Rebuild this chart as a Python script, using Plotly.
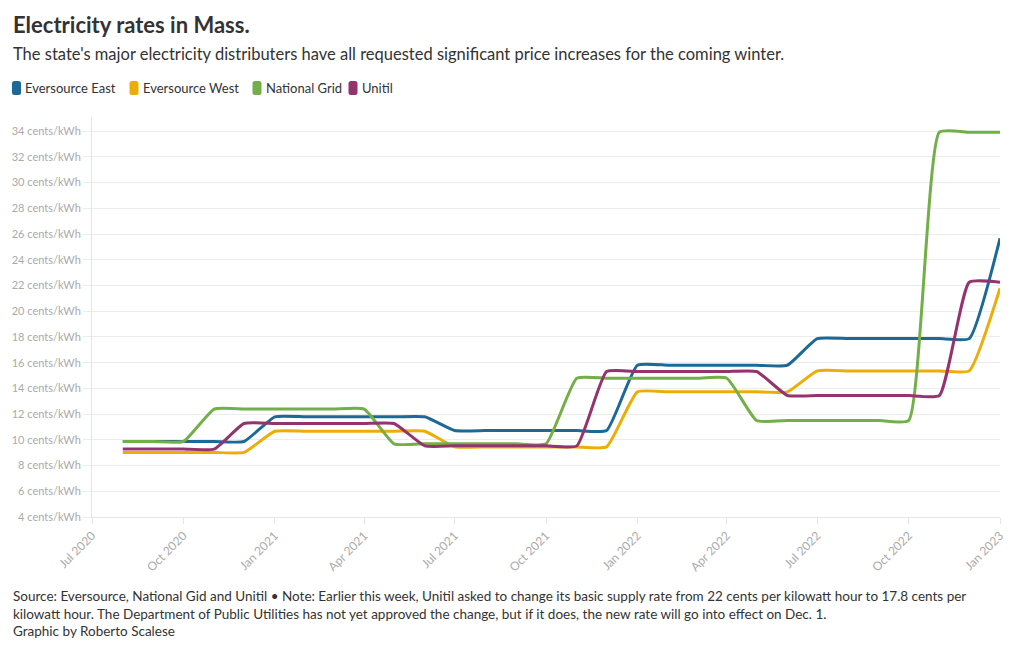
import plotly.graph_objects as go

# ---- data ----
months = [
    "2020-08-01", "2020-09-01", "2020-10-01", "2020-11-01", "2020-12-01",
    "2021-01-01", "2021-02-01", "2021-03-01", "2021-04-01", "2021-05-01", "2021-06-01",
    "2021-07-01", "2021-08-01", "2021-09-01", "2021-10-01", "2021-11-01", "2021-12-01",
    "2022-01-01", "2022-02-01", "2022-03-01", "2022-04-01", "2022-05-01", "2022-06-01",
    "2022-07-01", "2022-08-01", "2022-09-01", "2022-10-01", "2022-11-01", "2022-12-01",
    "2023-01-01",
]

eversource_east = ([9.87] * 5 + [11.79] * 6 + [10.72] * 6 + [15.80] * 6 + [17.87] * 6 + [25.67])
eversource_west = ([9.02] * 5 + [10.67] * 6 + [9.45] * 6 + [13.73] * 6 + [15.36] * 6 + [21.78])
national_grid = ([9.87] * 3 + [12.39] * 6 + [9.69] * 6 + [14.79] * 6 + [11.50] * 6 + [33.92] * 3)
unitil = ([9.28] * 4 + [11.27] * 6 + [9.53] * 6 + [15.31] * 6 + [13.45] * 6 + [22.25] * 2)

series_names = ["Eversource East", "Eversource West", "National Grid", "Unitil"]
series_values = [eversource_east, eversource_west, national_grid, unitil]
colors = ["#1D6996", "#EDAD08", "#73AF48", "#94346E"]

y_ticks = list(range(4, 35, 2))
y_tick_labels = [f"{v} cents/kWh" for v in y_ticks]
x_ticks = ["2020-07-01", "2020-10-01", "2021-01-01", "2021-04-01", "2021-07-01",
           "2021-10-01", "2022-01-01", "2022-04-01", "2022-07-01", "2022-10-01", "2023-01-01"]
x_tick_labels = ["Jul 2020", "Oct 2020", "Jan 2021", "Apr 2021", "Jul 2021", "Oct 2021",
                 "Jan 2022", "Apr 2022", "Jul 2022", "Oct 2022", "Jan 2023"]

title = "Electricity rates in Mass."
subtitle = ("The state's major electricity distributers have all requested significant "
            "price increases for the coming winter.")
footer = ("Source: Eversource, National Gid and Unitil \u2022 Note: Earlier this week, Unitil asked to "
          "change its basic supply rate from 22 cents per kilowatt hour to 17.8 cents per<br>"
          "kilowatt hour. The Department of Public Utilities has not yet approved the change, "
          "but if it does, the new rate will go into effect on Dec. 1.<br>"
          "Graphic by Roberto Scalese")

# ---- layout geometry (page pixels; the page body adds an 8px offset) ----
FONT = "Lato"
TXT = "#333333"
OFF = 8
W, H = 1020, 650
PL, PR, PT, PB = 92, 1000, 117, 517          # plot box in page pixels
ML, MR, MT, MB = PL - OFF, W - (PR - OFF), PT - OFF, H - (PB - OFF)
PW, PH = PR - PL, PB - PT


def px(x):
    return (x - PL) / PW


def py(y):
    return (PB - y) / PH


fig = go.Figure()
for name, vals, col in zip(series_names, series_values, colors):
    fig.add_trace(go.Scatter(
        x=months, y=vals, name=name, mode="lines",
        line=dict(color=col, width=3, shape="spline", smoothing=0.45),
        showlegend=False,
        hovertemplate="%{x|%b %Y}: %{y} cents/kWh<extra>" + name + "</extra>",
    ))

annotations = [
    dict(text=f"<b>{title}</b>", x=px(11), y=py(24), xref="paper", yref="paper",
         xanchor="left", yanchor="middle", showarrow=False,
         font=dict(family=FONT, size=22, color=TXT)),
    dict(text=subtitle, x=px(11), y=py(54), xref="paper", yref="paper",
         xanchor="left", yanchor="middle", showarrow=False,
         font=dict(family=FONT, size=16.5, color=TXT)),
    dict(text=footer, x=px(11), y=py(613), xref="paper", yref="paper",
         xanchor="left", yanchor="middle", align="left", showarrow=False,
         font=dict(family=FONT, size=13.5, color=TXT)),
]

# legend: swatch + label per series
legend_swatch_x = [12, 129.5, 252.5, 348.5]
legend_text_x = [23, 140.5, 263.5, 360]
shapes = []
sw, sh, r = 9, 14, 2.5
for n, c, sx, tx in zip(series_names, colors, legend_swatch_x, legend_text_x):
    annotations.append(dict(text=n, x=px(tx), y=py(88), xref="paper", yref="paper",
                            xanchor="left", yanchor="middle", showarrow=False,
                            font=dict(family=FONT, size=13, color=TXT)))
    x0, x1, y0, y1 = sx, sx + sw, 81, 81 + sh
    rx, ry = r / PW, r / PH
    X0, X1, Y0, Y1 = px(x0), px(x1), py(y1), py(y0)
    path = (f"M{X0 + rx},{Y0} L{X1 - rx},{Y0} Q{X1},{Y0} {X1},{Y0 + ry} "
            f"L{X1},{Y1 - ry} Q{X1},{Y1} {X1 - rx},{Y1} L{X0 + rx},{Y1} "
            f"Q{X0},{Y1} {X0},{Y1 - ry} L{X0},{Y0 + ry} Q{X0},{Y0} {X0 + rx},{Y0} Z")
    shapes.append(dict(type="path", path=path, xref="paper", yref="paper",
                       fillcolor=c, line=dict(width=0)))

fig.update_layout(
    width=W, height=H,
    margin=dict(l=ML, r=MR, t=MT, b=MB, pad=0),
    paper_bgcolor="white", plot_bgcolor="white",
    font=dict(family=FONT, color=TXT),
    annotations=annotations,
    shapes=shapes,
    showlegend=False,
    xaxis=dict(
        type="date", range=["2020-07-01", "2023-01-01"], automargin=False,
        tickmode="array", tickvals=x_ticks, ticktext=x_tick_labels,
        tickangle=-45, tickfont=dict(family=FONT, size=12, color="#aaaaaa"),
        showgrid=False, showline=True, linecolor="#e6e6e6", linewidth=1,
        ticks="outside", ticklen=6, tickcolor="#e6e6e6", zeroline=False,
    ),
    yaxis=dict(
        range=[4, 35.1], automargin=False,
        tickmode="array", tickvals=y_ticks, ticktext=y_tick_labels,
        tickfont=dict(family=FONT, size=11, color="#aaaaaa"),
        showgrid=True, gridcolor="#ececec", gridwidth=1,
        showline=True, linecolor="#e6e6e6", linewidth=1,
        ticks="outside", ticklen=8, tickcolor="#ececec", zeroline=False,
    ),
)

fig.write_html("out.html")
